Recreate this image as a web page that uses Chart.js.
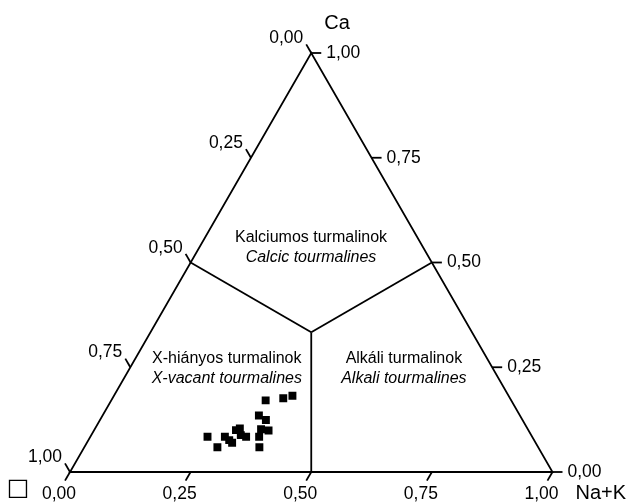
<!DOCTYPE html>
<html>
<head>
<meta charset="utf-8">
<script src="https://cdn.jsdelivr.net/npm/chart.js@4/dist/chart.umd.min.js"></script>
<style>
  html, body { margin: 0; padding: 0; background: #ffffff; }
  #wrap { width: 634px; height: 503px; position: relative; }
</style>
</head>
<body>
<div id="wrap"><canvas id="c" width="634" height="503"></canvas></div>
<script>
// X-site composition of the analysed tourmalines (atomic fractions)
const caFraction  = [0.084, 0.059, 0.084, 0.076, 0.070, 0.100, 0.104, 0.088, 0.084,
                     0.084, 0.059, 0.102, 0.099, 0.135, 0.124, 0.171, 0.176, 0.182];
const naKFraction = [0.243, 0.276, 0.279, 0.292, 0.301, 0.294, 0.300, 0.310, 0.323,
                     0.350, 0.363, 0.345, 0.362, 0.324, 0.344, 0.320, 0.354, 0.370];

// Axis ticks shared by the three sides
const tickValues = [0, 0.25, 0.5, 0.75, 1];
const tickLabels = ['0,00', '0,25', '0,50', '0,75', '1,00'];

// Apex labels
const apexCa = 'Ca';
const apexNaK = 'Na+K';
const apexVacancy = '\u25A1';

// Field names (Hungarian / English)
const fieldCalcic  = ['Kalciumos turmalinok', 'Calcic tourmalines'];
const fieldVacant  = ['X-hiányos turmalinok', 'X-vacant tourmalines'];
const fieldAlkali  = ['Alkáli turmalinok', 'Alkali tourmalines'];

const H = Math.sqrt(3) / 2;
// ternary (Na+K, Ca) -> cartesian data coordinates
const toXY = (nak, ca) => ({ x: nak + ca / 2, y: ca * H });

const points = caFraction.map((ca, i) => toXY(naKFraction[i], ca));

const FONT = '"Liberation Sans", Arial, sans-serif';

const ternaryFrame = {
  id: 'ternaryFrame',
  beforeDatasetsDraw(chart) {
    const ctx = chart.ctx;
    const xs = chart.scales.x, ys = chart.scales.y;
    const px = (nak, ca) => {
      const p = toXY(nak, ca);
      return { x: xs.getPixelForValue(p.x), y: ys.getPixelForValue(p.y) };
    };
    const line = (a, b) => { ctx.beginPath(); ctx.moveTo(a.x, a.y); ctx.lineTo(b.x, b.y); ctx.stroke(); };

    ctx.save();
    ctx.strokeStyle = '#000';
    ctx.lineWidth = 1.8;
    ctx.lineCap = 'butt';
    ctx.lineJoin = 'miter';

    // outer triangle
    const L = px(0, 0), R = px(1, 0), T = px(0, 1);
    ctx.beginPath();
    ctx.moveTo(L.x, L.y); ctx.lineTo(R.x, R.y); ctx.lineTo(T.x, T.y); ctx.closePath();
    ctx.stroke();

    // field boundaries meeting at the 1/3 point
    const C = px(1 / 3, 1 / 3);
    line(px(0, 0.5), C);
    line(px(0.5, 0.5), C);
    line(px(0.5, 0), C);

    const len = 10;
    ctx.fillStyle = '#000';
    ctx.font = '17.5px ' + FONT;

    tickValues.forEach((v, i) => {
      // bottom side: Na+K
      let b = px(v, 0);
      let e = { x: b.x - len * 0.5, y: b.y + len * H };
      line(b, e);
      ctx.textAlign = 'center'; ctx.textBaseline = 'middle';
      ctx.fillText(tickLabels[i], e.x - 6, e.y + 14);

      // left side: X-site vacancy (0 at the Ca apex)
      b = px(0, 1 - v);
      e = { x: b.x - len * 0.5, y: b.y - len * H };
      line(b, e);
      ctx.textAlign = 'right'; ctx.textBaseline = 'middle';
      ctx.fillText(tickLabels[i], e.x - 3, e.y - 6);

      // right side: Ca
      b = px(1 - v, v);
      e = { x: b.x + len, y: b.y };
      line(b, e);
      ctx.textAlign = 'left'; ctx.textBaseline = 'middle';
      ctx.fillText(tickLabels[i], e.x + 5, e.y);
    });

    // apex labels
    ctx.font = '20px ' + FONT;
    ctx.textAlign = 'left'; ctx.textBaseline = 'middle';
    ctx.fillText(apexCa, T.x + 13, T.y - 30);
    ctx.fillText(apexNaK, R.x + 23, R.y + 21);
    ctx.textAlign = 'center';
    ctx.font = '24px "DejaVu Sans", sans-serif';
    ctx.fillText(apexVacancy, L.x - 52, L.y + 17);

    // field names
    const field = (names, nak, ca) => {
      const p = px(nak, ca);
      ctx.textAlign = 'center'; ctx.textBaseline = 'middle';
      ctx.font = '16px ' + FONT;
      ctx.fillText(names[0], p.x, p.y - 9.5);
      ctx.font = 'italic 16px ' + FONT;
      ctx.fillText(names[1], p.x, p.y + 10);
    };
    field(fieldCalcic, 0.2315, 0.536);
    field(fieldVacant, 0.201, 0.248);
    field(fieldAlkali, 0.568, 0.248);

    ctx.restore();
  }
};

new Chart(document.getElementById('c'), {
  type: 'scatter',
  data: {
    datasets: [{
      data: points,
      pointStyle: 'rect',
      radius: 5.6,
      backgroundColor: '#000',
      borderColor: '#000',
      borderWidth: 0
    }]
  },
  options: {
    responsive: false,
    animation: false,
    devicePixelRatio: 1,
    events: [],
    layout: { padding: { left: 70, right: 81.5, top: 53, bottom: 31 } },
    scales: {
      x: { type: 'linear', min: 0, max: 1, display: false },
      y: { type: 'linear', min: 0, max: H, display: false }
    },
    plugins: { legend: { display: false }, tooltip: { enabled: false } }
  },
  plugins: [ternaryFrame]
});
</script>
</body>
</html>
